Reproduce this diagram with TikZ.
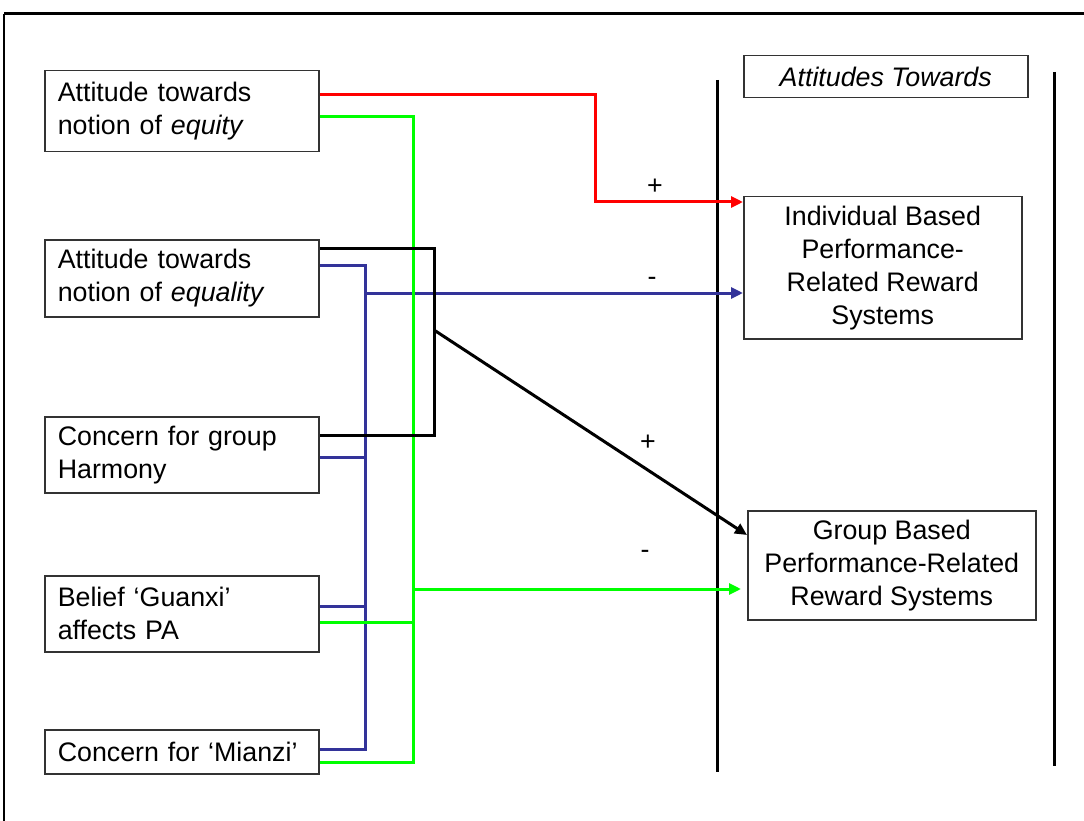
\documentclass[tikz,border=0pt]{standalone}
\usepackage{fontspec}
\setmainfont{Liberation Sans}
\usetikzlibrary{arrows.meta}
\definecolor{cblue}{RGB}{51,51,153}
\definecolor{cgreen}{RGB}{0,255,0}
\definecolor{cred}{RGB}{255,0,0}
\begin{document}
\begin{tikzpicture}[x=1pt,y=-1pt,
  every node/.style={font=\fontsize{26.8}{33}\selectfont},
  lbox/.style={draw=black!80,line width=1.5pt,anchor=north west,text width=248pt,inner xsep=13pt,inner ysep=0pt,align=left,minimum width=274pt},
  rbox/.style={draw=black!80,line width=1.5pt,anchor=north west,inner sep=0pt,align=center},
  conn/.style={line width=3pt},
  tip/.style={-{Triangle[length=12pt,width=11pt]}},
  sign/.style={inner sep=0pt}]
\useasboundingbox (0,0) rectangle (1084,821);
% frame
\draw[line width=3pt] (4,14) -- (1084,14);
\draw[line width=1.2pt] (4,14) -- (4,821);
% separators
\draw[line width=3pt] (717,80) -- (717,772);
\draw[line width=3pt] (1054,72) -- (1054,766);
% left boxes
\node[lbox,minimum height=81pt] (b1) at (44,70) {Attitude towards\\notion of \textit{equity}};
\node[lbox,minimum height=77pt] (b2) at (44,239) {Attitude towards\\notion of \textit{equality}};
\node[lbox,minimum height=76pt] (b3) at (44,416) {Concern for group\\Harmony};
\node[lbox,minimum height=76pt] (b4) at (44,575) {Belief `Guanxi'\\affects PA};
\node[lbox,minimum height=44pt] (b5) at (44,729) {Concern for `Mianzi'};
% right boxes
\node[rbox,minimum width=284pt,minimum height=42pt] (tt) at (743,55) {\textit{Attitudes Towards}};
\node[rbox,minimum width=278pt,minimum height=142pt] (ind) at (743,196) {Individual Based\\Performance-\\Related Reward\\Systems};
\node[rbox,minimum width=288pt,minimum height=109pt] (grp) at (747,510) {Group Based\\Performance-Related\\Reward Systems};
% junction coordinates
\coordinate (rj) at (595,150);
\coordinate (gtop) at (413,117);
\coordinate (gbot) at (413,762);
\coordinate (g4) at (413,622);
\coordinate (garr) at (413,589);
\coordinate (btop) at (365,265);
\coordinate (bbot) at (365,749);
\coordinate (b3j) at (365,457);
\coordinate (b4j) at (365,606);
\coordinate (barr) at (365,293);
\coordinate (ktop) at (434,248);
\coordinate (kbot) at (434,435);
\coordinate (karr) at (434,330);
% blue
\draw[conn,cblue] ([yshift=-26pt]b2.north east) -- (btop) -- (bbot) -- ([yshift=-20pt]b5.north east);
\draw[conn,cblue] ([yshift=-41pt]b3.north east) -- (b3j);
\draw[conn,cblue] ([yshift=-31pt]b4.north east) -- (b4j);
\draw[conn,cblue,tip] (barr) -- ([yshift=-97pt]ind.north west);
% green
\draw[conn,cgreen] ([yshift=-47pt]b1.north east) -- (gtop) -- (gbot) -- ([yshift=-33pt]b5.north east);
\draw[conn,cgreen] ([yshift=-47pt]b4.north east) -- (g4);
\draw[conn,cgreen,tip] (garr) -- ([xshift=-6pt,yshift=-79pt]grp.north west);
% black
\draw[conn,black] ([yshift=-9pt]b2.north east) -- (ktop) -- (kbot) -- ([yshift=-19pt]b3.north east);
\draw[conn,black,tip] (karr) -- ([yshift=-25pt]grp.north west);
% red
\draw[conn,cred,tip] ([yshift=-25pt]b1.north east) -| (rj) |- ([yshift=-6pt]ind.north west);
% signs
\node[sign] (s1) at (655,187) {+};
\node[sign] (s2) at (652,281) {-};
\node[sign] (s3) at (648,443) {+};
\node[sign] (s4) at (645,554) {-};
\end{tikzpicture}
\end{document}
